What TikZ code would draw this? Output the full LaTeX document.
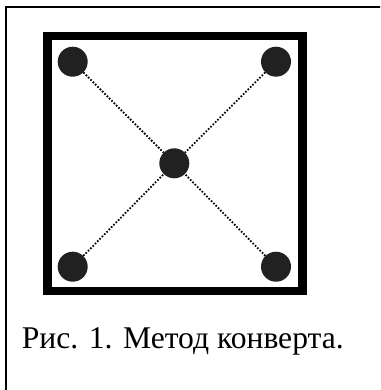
\documentclass[tikz,border=0pt]{standalone}
\usepackage{fontspec}
\setmainfont{Liberation Serif}
\begin{document}
\begin{tikzpicture}[x=1pt,y=-1pt,
  dot/.style={circle,fill=black!87,inner sep=0pt,minimum size=30pt},
  link/.style={line width=1.8pt,dash pattern=on 1.6pt off 1.7pt,black},
  frameline/.style={line width=2pt},
  boxline/.style={line width=8.5pt}]
\clip (0,0) rectangle (380,390);
\useasboundingbox (0,0) rectangle (380,390);
\draw[frameline] (6,6.8) rectangle (400,420);
\draw[boxline] (47.5,35.8) rectangle (302.5,290.8);
\node[dot] (tl) at (72.7,61.7) {};
\node[dot] (tr) at (276,61.7) {};
\node[dot] (c) at (174.3,163.3) {};
\node[dot] (bl) at (72.7,266.7) {};
\node[dot] (br) at (276,266.7) {};
\draw[link] (tl) -- (c);
\draw[link] (tr) -- (c);
\draw[link] (bl) -- (c);
\draw[link] (br) -- (c);
\node[anchor=base west,inner sep=0pt,font=\fontsize{31.6pt}{36pt}\selectfont] (cap) at (21.7,348.3) {Рис. 1. Метод конверта.};
\end{tikzpicture}
\end{document}
